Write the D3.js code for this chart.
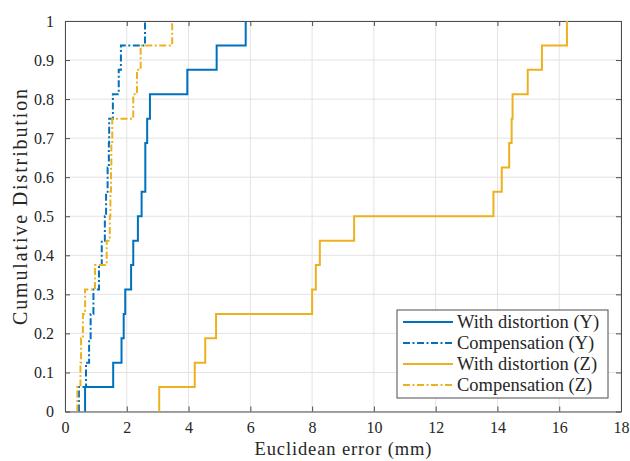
<!DOCTYPE html>
<html>
<head>
<meta charset="utf-8">
<script src="https://cdn.jsdelivr.net/npm/d3@7"></script>
<style>
  body { margin: 0; background: #fff; }
  text { font-family: "Liberation Serif", "Times New Roman", serif; fill: #262626; }
</style>
</head>
<body>
<div class="chart"></div>
<script>
// sorted samples (16 each, steps of 1/16)
var distY = [0.65, 1.56, 1.83, 1.90, 1.95, 2.14, 2.21, 2.36, 2.48, 2.60, 2.60, 2.66, 2.75, 3.96, 4.91, 5.85];
var compY = [0.45, 0.68, 0.78, 0.83, 0.92, 1.10, 1.19, 1.29, 1.33, 1.38, 1.42, 1.43, 1.55, 1.74, 1.81, 2.59];
var distZ = [3.05, 4.20, 4.54, 4.89, 8.00, 8.12, 8.25, 9.36, 13.87, 14.14, 14.38, 14.46, 14.49, 14.98, 15.44, 16.25];
var compZ = [0.40, 0.50, 0.52, 0.58, 0.65, 0.97, 1.35, 1.45, 1.47, 1.49, 1.50, 1.53, 2.21, 2.33, 2.45, 3.47];
var seriesNames = ["With distortion (Y)", "Compensation (Y)", "With distortion (Z)", "Compensation (Z)"];
var xTicks = [0, 2, 4, 6, 8, 10, 12, 14, 16, 18];
var yTicks = [0, 0.1, 0.2, 0.3, 0.4, 0.5, 0.6, 0.7, 0.8, 0.9, 1];

var width = 630,
    height = 461,
    plotLeft = 65, plotRight = 621, plotTop = 21, plotBottom = 411.5;

var blue = "#0072BD", yellow = "#EDB120";
var dashDot = "7,2.5,2,2.5";

var series = [
  { name: seriesNames[0], values: distY, color: blue, dash: null },
  { name: seriesNames[1], values: compY, color: blue, dash: dashDot },
  { name: seriesNames[2], values: distZ, color: yellow, dash: null },
  { name: seriesNames[3], values: compZ, color: yellow, dash: dashDot }
];

var svg = d3.select(".chart").append("svg")
            .attr("width", width)
            .attr("height", height);

var xScale = d3.scaleLinear().domain([0, 18]).range([plotLeft, plotRight]);
var yScale = d3.scaleLinear().domain([0, 1]).range([plotBottom, plotTop]);

//grid lines
var grid = svg.append("g").attr("class", "grid");
grid.selectAll(".gx").data(xTicks).enter().append("line")
    .attr("x1", d => xScale(d)).attr("x2", d => xScale(d))
    .attr("y1", plotTop).attr("y2", plotBottom)
    .attr("stroke", "#e3e3e3").attr("stroke-width", 1);
grid.selectAll(".gy").data(yTicks).enter().append("line")
    .attr("y1", d => yScale(d)).attr("y2", d => yScale(d))
    .attr("x1", plotLeft).attr("x2", plotRight)
    .attr("stroke", "#e3e3e3").attr("stroke-width", 1);

//axes, ticks pointing inward on all four sides
var axisColor = "#4d4d4d";
var tickLen = 5;
var xAxis = d3.axisBottom(xScale).tickValues(xTicks).tickSizeInner(-tickLen).tickSizeOuter(0).tickPadding(10);
var xAxisTop = d3.axisTop(xScale).tickValues(xTicks).tickSizeInner(-tickLen).tickSizeOuter(0).tickFormat("");
var yAxis = d3.axisLeft(yScale).tickValues(yTicks).tickSizeInner(-tickLen).tickSizeOuter(0).tickPadding(11)
              .tickFormat(d => d === 0 || d === 1 ? d3.format("d")(d) : d3.format(".1f")(d));
var yAxisRight = d3.axisRight(yScale).tickValues(yTicks).tickSizeInner(-tickLen).tickSizeOuter(0).tickFormat("");

var gx = svg.append("g").attr("transform", "translate(0," + plotBottom + ")").call(xAxis);
var gxt = svg.append("g").attr("transform", "translate(0," + plotTop + ")").call(xAxisTop);
var gy = svg.append("g").attr("transform", "translate(" + plotLeft + ",0)").call(yAxis);
var gyr = svg.append("g").attr("transform", "translate(" + plotRight + ",0)").call(yAxisRight);

[gx, gxt, gy, gyr].forEach(function(g) {
  g.select(".domain").attr("stroke", axisColor).attr("stroke-width", 1);
  g.selectAll(".tick line").attr("stroke", axisColor).attr("stroke-width", 1);
  g.selectAll(".tick text").attr("fill", "#262626")
   .style("font-family", "'Liberation Serif', serif").style("font-size", "16px");
});

//step lines (empirical cdf)
var line = d3.line()
             .x(d => xScale(d[0]))
             .y(d => yScale(d[1]))
             .curve(d3.curveStepAfter);

var plot = svg.append("g").attr("class", "lines");
series.forEach(function(s) {
  var n = s.values.length;
  var pts = [[s.values[0], 0]].concat(s.values.map((v, i) => [v, (i + 1) / n]));
  plot.append("path")
      .datum(pts)
      .attr("d", line)
      .attr("fill", "none")
      .attr("stroke", s.color)
      .attr("stroke-width", 2)
      .attr("stroke-dasharray", s.dash);
});

//axis labels
svg.append("text")
   .attr("x", (plotLeft + plotRight) / 2)
   .attr("y", 455)
   .attr("text-anchor", "middle")
   .attr("textLength", 177)
   .attr("lengthAdjust", "spacing")
   .style("font-size", "18.5px")
   .text("Euclidean error (mm)");

svg.append("text")
   .attr("transform", "translate(27,207) rotate(-90)")
   .attr("text-anchor", "middle")
   .attr("textLength", 236)
   .attr("lengthAdjust", "spacing")
   .style("font-size", "20px")
   .text("Cumulative Distribution");

//legend
var legend = svg.append("g").attr("transform", "translate(397,310)");
legend.append("rect")
      .attr("width", 211).attr("height", 88)
      .attr("fill", "#fff")
      .attr("stroke", axisColor).attr("stroke-width", 1);
var rows = legend.selectAll(".row").data(series).enter().append("g")
                 .attr("transform", (d, i) => "translate(0," + (12 + i * 21) + ")");
rows.append("line")
    .attr("x1", 6).attr("x2", 56)
    .attr("stroke", d => d.color)
    .attr("stroke-width", 2)
    .attr("stroke-dasharray", d => d.dash);
rows.append("text")
    .attr("x", 60).attr("y", 6)
    .style("font-size", "18.5px")
    .text(d => d.name);
</script>
</body>
</html>
